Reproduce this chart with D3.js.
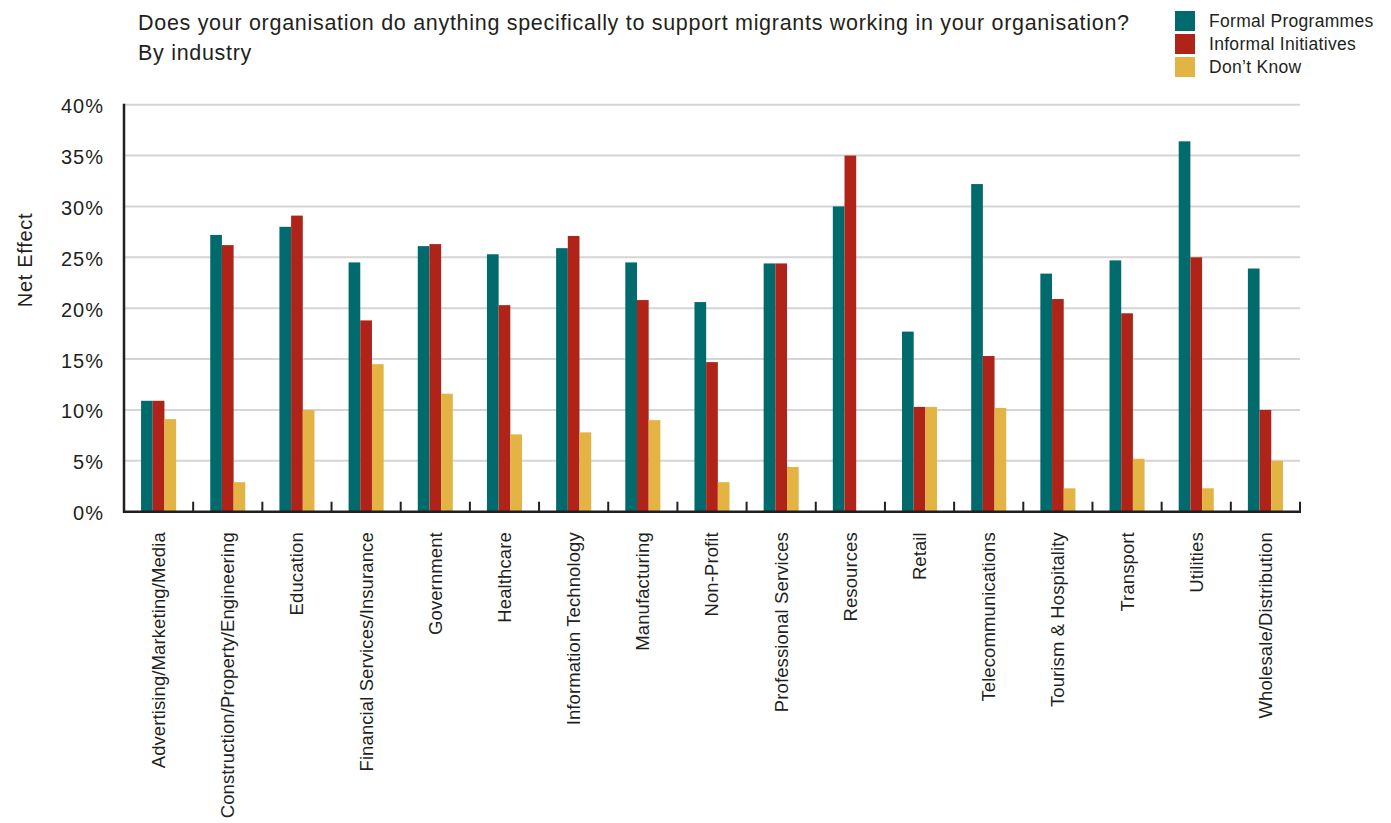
<!DOCTYPE html>
<html>
<head>
<meta charset="utf-8">
<script src="https://cdn.jsdelivr.net/npm/d3@7"></script>
<style>
  html, body { margin: 0; padding: 0; background: #fff; }
  svg { display: block; font-family: "Liberation Sans", Arial, Helvetica, sans-serif; }
</style>
</head>
<body>
<svg id="chart" width="1391" height="823"></svg>
<script>
const categories = [
  "Advertising/Marketing/Media",
  "Construction/Property/Engineering",
  "Education",
  "Financial Services/Insurance",
  "Government",
  "Healthcare",
  "Information Technology",
  "Manufacturing",
  "Non-Profit",
  "Professional Services",
  "Resources",
  "Retail",
  "Telecommunications",
  "Tourism & Hospitality",
  "Transport",
  "Utilities",
  "Wholesale/Distribution"
];
const seriesNames = ["Formal Programmes", "Informal Initiatives", "Don\u2019t Know"];
const formalProgrammes    = [10.9, 27.2, 28.0, 24.5, 26.1, 25.3, 25.9, 24.5, 20.6, 24.4, 30.0, 17.7, 32.2, 23.4, 24.7, 36.4, 23.9];
const informalInitiatives = [10.9, 26.2, 29.1, 18.8, 26.3, 20.3, 27.1, 20.8, 14.7, 24.4, 35.0, 10.3, 15.3, 20.9, 19.5, 25.0, 10.0];
const dontKnow            = [9.1, 2.9, 10.0, 14.5, 11.6, 7.6, 7.8, 9.0, 2.9, 4.4, 0, 10.3, 10.2, 2.3, 5.2, 2.3, 5.0];
const yTicks = [0, 5, 10, 15, 20, 25, 30, 35, 40];
const colors = ["#006a6c", "#b02318", "#e3b443"];

const seriesValues = [formalProgrammes, informalInitiatives, dontKnow];
const rows = categories.map((c, i) => ({
  category: c,
  values: seriesNames.map((s, j) => ({ series: s, value: seriesValues[j][i] }))
}));

const svg = d3.select("#chart");
const mLeft = 124, mRight = 1300, mTop = 104.7, mBottom = 511.7;
const textColor = "#231f20";

const x0 = d3.scaleBand().domain(categories).range([mLeft, mRight]).padding(0);
const x1 = d3.scaleBand().domain(seriesNames).range([0, x0.bandwidth()]).paddingInner(0).paddingOuter(1.46);
const y = d3.scaleLinear().domain([0, 40]).range([mBottom, mTop]);
const color = d3.scaleOrdinal().domain(seriesNames).range(colors);

// gridlines
svg.append("g")
  .selectAll("line")
  .data(yTicks.filter(t => t > 0))
  .join("line")
  .attr("x1", mLeft).attr("x2", mRight)
  .attr("y1", d => y(d)).attr("y2", d => y(d))
  .attr("stroke", "#d5d5d5").attr("stroke-width", 2);

// y tick labels
const yAxis = svg.append("g")
  .attr("transform", `translate(${mLeft},0)`)
  .call(d3.axisLeft(y).tickValues(yTicks).tickFormat(d => d + "%").tickSize(0).tickPadding(20));
yAxis.select(".domain").remove();
yAxis.selectAll("text")
  .attr("font-size", 20).attr("fill", textColor)
  .attr("font-family", "'Liberation Sans', Arial, sans-serif")
  .attr("letter-spacing", "1px")
  .attr("dy", "0.4em");

// bars
const groups = svg.append("g")
  .selectAll("g")
  .data(rows)
  .join("g")
  .attr("transform", d => `translate(${x0(d.category)},0)`);
groups.selectAll("rect")
  .data(d => d.values)
  .join("rect")
  .attr("x", d => x1(d.series))
  .attr("width", x1.bandwidth())
  .attr("y", d => y(d.value))
  .attr("height", d => y(0) - y(d.value))
  .attr("fill", d => color(d.series));

// x axis with ticks pointing up at band boundaries
const xAxisG = svg.append("g").attr("transform", `translate(0,${mBottom})`);
xAxisG.append("line")
  .attr("x1", mLeft - 1).attr("x2", mRight + 1)
  .attr("y1", 0).attr("y2", 0)
  .attr("stroke", textColor).attr("stroke-width", 2.5);
const boundaries = categories.slice(1).map(c => x0(c)).concat([mRight]);
xAxisG.selectAll("line.tick")
  .data(boundaries)
  .join("line")
  .attr("class", "tick")
  .attr("x1", d => d).attr("x2", d => d)
  .attr("y1", 0).attr("y2", -10)
  .attr("stroke", textColor).attr("stroke-width", 2);

// y axis line
svg.append("line")
  .attr("x1", mLeft).attr("x2", mLeft)
  .attr("y1", mTop - 1).attr("y2", mBottom + 1)
  .attr("stroke", textColor).attr("stroke-width", 2.5);

// category labels
const xAxis = svg.append("g")
  .attr("transform", `translate(0,${mBottom})`)
  .call(d3.axisBottom(x0).tickSize(0).tickPadding(0));
xAxis.select(".domain").remove();
xAxis.selectAll("text")
  .attr("font-size", 18.5).attr("fill", textColor)
  .attr("font-family", "'Liberation Sans', Arial, sans-serif")
  .attr("letter-spacing", "0.1px")
  .attr("text-anchor", "end")
  .attr("transform", "translate(0,20.5) rotate(-90)")
  .attr("x", 0).attr("y", 0).attr("dy", "0.35em");

// y axis label
svg.append("text")
  .attr("transform", "translate(25,260) rotate(-90)")
  .attr("text-anchor", "middle").attr("dy", "0.35em")
  .attr("font-size", 20).attr("fill", textColor)
  .attr("letter-spacing", "0.7px")
  .text("Net Effect");

// title
const titleLines = ["Does your organisation do anything specifically to support migrants working in your organisation?", "By industry"];
svg.append("g").selectAll("text")
  .data(titleLines)
  .join("text")
  .attr("x", 138).attr("y", (d, i) => 30 + i * 30)
  .attr("font-size", 21.5).attr("fill", textColor)
  .attr("letter-spacing", "0.7px")
  .text(d => d);

// legend
const legend = svg.append("g").attr("transform", "translate(1175,11)");
const li = legend.selectAll("g")
  .data(seriesNames)
  .join("g")
  .attr("transform", (d, i) => `translate(0,${i * 23})`);
li.append("rect").attr("width", 20).attr("height", 20).attr("fill", d => color(d));
li.append("text")
  .attr("x", 34).attr("y", 10).attr("dy", "0.35em")
  .attr("font-size", 17.5).attr("fill", textColor)
  .attr("letter-spacing", "0.3px")
  .text(d => d);
</script>
</body>
</html>
